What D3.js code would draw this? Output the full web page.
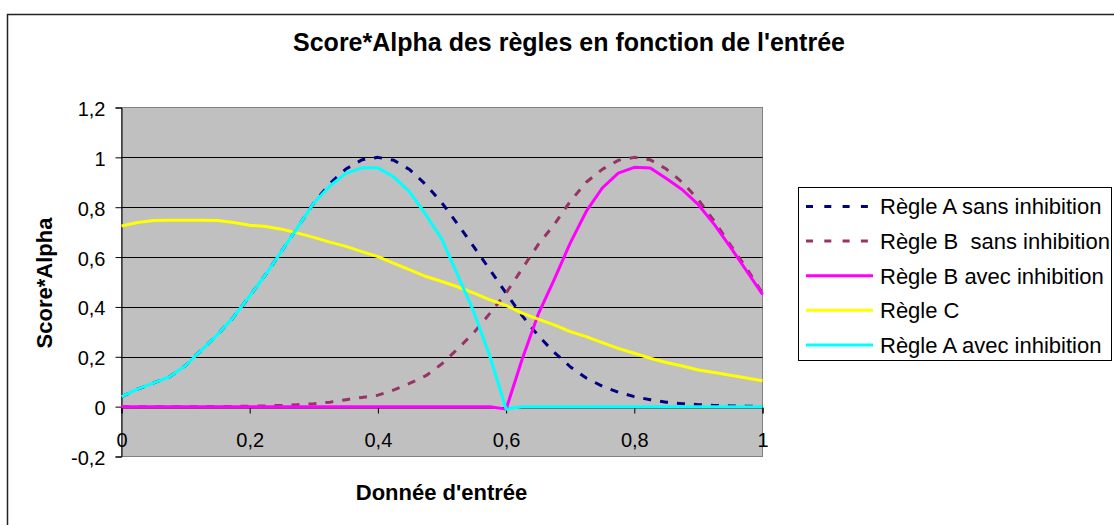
<!DOCTYPE html>
<html lang="fr">
<head>
<meta charset="utf-8">
<title>Score*Alpha des règles en fonction de l'entrée</title>
<script src="https://cdn.jsdelivr.net/npm/d3@7"></script>
<style>
  html, body { margin: 0; padding: 0; background: #fff; }
  svg { display: block; font-family: "Liberation Sans", Arial, sans-serif; }
  .legend-label { white-space: pre; }
</style>
</head>
<body>
<svg id="chart" width="1114" height="525"></svg>
<script>
// Input values (x axis), step 0.025
const inputs = [0, 0.025, 0.05, 0.075, 0.1, 0.125, 0.15, 0.175, 0.2, 0.225,
  0.25, 0.275, 0.3, 0.325, 0.35, 0.375, 0.4, 0.425, 0.45, 0.475,
  0.5, 0.525, 0.55, 0.575, 0.6, 0.625, 0.65, 0.675, 0.7, 0.725,
  0.75, 0.775, 0.8, 0.825, 0.85, 0.875, 0.9, 0.925, 0.95, 0.975, 1];

// Score*Alpha for each rule
const regleASans = [0.04, 0.07, 0.095, 0.12, 0.165, 0.228, 0.29, 0.36, 0.444, 0.53,
  0.625, 0.72, 0.817, 0.895, 0.953, 0.99, 1.0, 0.988, 0.95, 0.89,
  0.817, 0.73, 0.64, 0.548, 0.455, 0.365, 0.285, 0.218, 0.16, 0.115,
  0.082, 0.058, 0.04, 0.028, 0.018, 0.012, 0.008, 0.005, 0.003, 0.002, 0.001];

const regleBSans = [0, 0, 0, 0, 0, 0, 0.001, 0.001, 0.002, 0.003,
  0.005, 0.008, 0.012, 0.018, 0.028, 0.037, 0.046, 0.067, 0.094, 0.124,
  0.172, 0.233, 0.298, 0.375, 0.456, 0.553, 0.65, 0.73, 0.823, 0.9,
  0.952, 0.988, 1.0, 0.99, 0.953, 0.9, 0.83, 0.743, 0.648, 0.556, 0.455];

const regleBAvec = [0, 0, 0, 0, 0, 0, 0, 0, 0, 0,
  0, 0, 0, 0, 0, 0, 0, 0, 0, 0,
  0, 0, 0, 0, -0.01, 0.19, 0.37, 0.51, 0.656, 0.783,
  0.877, 0.937, 0.96, 0.957, 0.915, 0.87, 0.81, 0.73, 0.64, 0.545, 0.45];

const regleC = [0.725, 0.739, 0.747, 0.748, 0.748, 0.748, 0.747, 0.739, 0.728, 0.723,
  0.712, 0.696, 0.679, 0.66, 0.643, 0.622, 0.602, 0.575, 0.549, 0.522,
  0.502, 0.48, 0.455, 0.428, 0.406, 0.375, 0.351, 0.328, 0.301, 0.281,
  0.257, 0.234, 0.214, 0.194, 0.177, 0.163, 0.147, 0.137, 0.126, 0.115, 0.104];

const regleAAvec = [0.04, 0.07, 0.095, 0.12, 0.165, 0.228, 0.29, 0.36, 0.444, 0.53,
  0.625, 0.72, 0.817, 0.885, 0.936, 0.958, 0.958, 0.921, 0.86, 0.77,
  0.67, 0.525, 0.378, 0.2, -0.01, 0, 0, 0, 0, 0,
  0, 0, 0, 0, 0, 0, 0, 0, 0, 0, 0];

const seriesNames = ["Règle A sans inhibition", "Règle B  sans inhibition",
  "Règle B avec inhibition", "Règle C", "Règle A avec inhibition"];
const seriesColors = ["#000080", "#993366", "#FF00FF", "#FFFF00", "#00FFFF"];
const seriesDashed = [true, true, false, false, false];
const seriesValues = [regleASans, regleBSans, regleBAvec, regleC, regleAAvec];

const yTicks = [-0.2, 0, 0.2, 0.4, 0.6, 0.8, 1, 1.2];
const xTicks = [0, 0.2, 0.4, 0.6, 0.8, 1];

const chartTitle = "Score*Alpha des règles en fonction de l'entrée";
const xTitle = "Donnée d'entrée";
const yTitle = "Score*Alpha";

// ---- layout ----
const plot = { left: 121.5, right: 762.5, top: 107.5, bottom: 456.5 };
const svg = d3.select("#chart");

const x = d3.scaleLinear().domain([0, 1]).range([plot.left, plot.right]);
const y = d3.scaleLinear().domain([-0.2, 1.2]).range([plot.bottom, plot.top]);
const frFormat = v => String(+v.toFixed(1)).replace(".", ",");

// outer chart frame
svg.append("rect")
  .attr("x", 7.5).attr("y", 14.5)
  .attr("width", 1120).attr("height", 530)
  .attr("fill", "#fff").attr("stroke", "#222").attr("stroke-width", 1.5);

// title
svg.append("text")
  .attr("x", 569).attr("y", 51)
  .attr("text-anchor", "middle")
  .attr("font-size", 25).attr("font-weight", "bold")
  .text(chartTitle);

// plot background
svg.append("rect")
  .attr("x", plot.left).attr("y", plot.top)
  .attr("width", plot.right - plot.left).attr("height", plot.bottom - plot.top)
  .attr("fill", "#C0C0C0").attr("stroke", "#808080").attr("stroke-width", 1);

// horizontal gridlines
svg.append("g")
  .selectAll("line")
  .data(yTicks.filter(t => t > -0.2 && t < 1.2))
  .join("line")
  .attr("x1", plot.left).attr("x2", plot.right)
  .attr("y1", d => Math.round(y(d)) + 0.5).attr("y2", d => Math.round(y(d)) + 0.5)
  .attr("stroke", "#000").attr("stroke-width", 1);

// y axis
const yAxis = svg.append("g")
  .attr("transform", `translate(${plot.left},0)`)
  .call(d3.axisLeft(y).tickValues(yTicks).tickFormat(frFormat).tickSize(6).tickPadding(10));
yAxis.select(".domain").attr("stroke", "#000");
yAxis.selectAll(".tick line").attr("stroke", "#000");
yAxis.selectAll(".tick text")
  .attr("font-size", 20).attr("fill", "#000")
  .attr("font-family", "Liberation Sans, Arial, sans-serif")
  .attr("dy", "0.4em");

// x axis crossing at 0
const xAxis = svg.append("g")
  .attr("transform", `translate(0,${Math.round(y(0)) + 0.5})`)
  .call(d3.axisBottom(x).tickValues(xTicks).tickFormat(frFormat).tickSize(6).tickPadding(19));
xAxis.select(".domain").attr("stroke", "#000");
xAxis.selectAll(".tick line").attr("stroke", "#000");
xAxis.selectAll(".tick text")
  .attr("font-size", 20).attr("fill", "#000")
  .attr("font-family", "Liberation Sans, Arial, sans-serif");

// series lines
const line = d3.line()
  .x((d, i) => x(inputs[i]))
  .y(d => y(d));

svg.append("g")
  .selectAll("path")
  .data(seriesValues)
  .join("path")
  .attr("d", d => line(d))
  .attr("fill", "none")
  .attr("stroke", (d, i) => seriesColors[i])
  .attr("stroke-width", 3)
  .attr("stroke-linejoin", "round")
  .attr("stroke-dasharray", (d, i) => seriesDashed[i] ? "8,9" : null);

// axis titles
svg.append("text")
  .attr("x", 441.5).attr("y", 500)
  .attr("text-anchor", "middle")
  .attr("font-size", 22).attr("font-weight", "bold")
  .text(xTitle);

svg.append("text")
  .attr("transform", "translate(52,283) rotate(-90)")
  .attr("text-anchor", "middle")
  .attr("font-size", 22).attr("font-weight", "bold")
  .text(yTitle);

// legend
const legend = svg.append("g");
legend.append("rect")
  .attr("x", 798.5).attr("y", 187.5)
  .attr("width", 313).attr("height", 173)
  .attr("fill", "#fff").attr("stroke", "#000").attr("stroke-width", 1);

const items = legend.selectAll("g.item")
  .data(seriesNames)
  .join("g")
  .attr("class", "item")
  .attr("transform", (d, i) => `translate(0,${206.5 + i * 34.6})`);

items.append("line")
  .attr("x1", 806).attr("x2", 873)
  .attr("y1", 0).attr("y2", 0)
  .attr("stroke", (d, i) => seriesColors[i])
  .attr("stroke-width", 3)
  .attr("stroke-dasharray", (d, i) => seriesDashed[i] ? "7,11.3" : null);

items.append("text")
  .attr("class", "legend-label")
  .attr("x", 880).attr("y", 0)
  .attr("dy", "0.36em")
  .attr("font-size", 22)
  .attr("fill", "#000")
  .text(d => d);
</script>
</body>
</html>
